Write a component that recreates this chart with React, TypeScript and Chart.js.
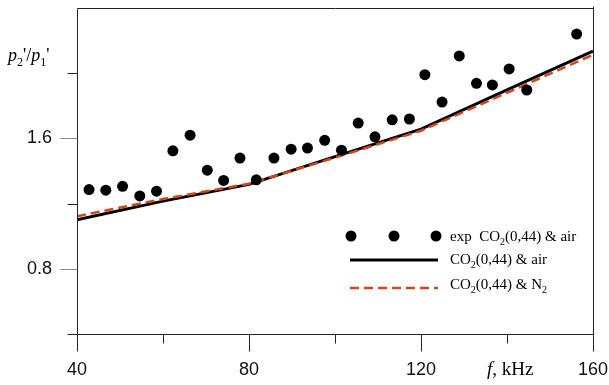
import React, { useEffect, useRef } from "react";
import { Chart, registerables } from "chart.js";

Chart.register(...registerables);

// Experimental points: exp CO2(0,44) & air
const fExp = [42.8, 46.7, 50.6, 54.6, 58.5, 62.3, 66.3, 70.3, 74.1, 77.9, 81.7, 85.8, 89.8, 93.6, 97.6, 101.5, 105.4, 109.3, 113.3, 117.3, 120.9, 124.9, 128.9, 132.9, 136.6, 140.5, 144.6, 156.2];
const pExp = [1.286, 1.282, 1.306, 1.247, 1.276, 1.524, 1.62, 1.405, 1.342, 1.479, 1.346, 1.479, 1.534, 1.541, 1.588, 1.528, 1.694, 1.61, 1.714, 1.719, 1.991, 1.823, 2.106, 1.938, 1.928, 2.026, 1.897, 2.24];

// Model curves
const fModel = [40, 60, 80, 100, 120, 140, 160];
const pAir = [1.1, 1.215, 1.318, 1.488, 1.657, 1.897, 2.135];
const pN2 = [1.122, 1.228, 1.322, 1.482, 1.647, 1.88, 2.113];

// Axis ticks
const xTicks = [40, 60, 80, 100, 120, 140, 160];
const xLabeled = [40, 80, 120, 160];
const yTicks = [0.4, 0.8, 1.2, 1.6, 2.0];
const yLabeled = [0.8, 1.6];

const RED = "#d4461a";
const SERIF = "'Liberation Serif', 'Times New Roman', serif";
const SANS = "'Liberation Sans', Arial, sans-serif";

type Part = { t: string; sub?: boolean; it?: boolean };

function drawRich(ctx: CanvasRenderingContext2D, x: number, y: number, parts: Part[], size: number) {
  let cx = x;
  for (const p of parts) {
    const fs = p.sub ? Math.round(size * 0.68) : size;
    ctx.font = `${p.it ? "italic " : ""}${fs}px ${SERIF}`;
    const dy = p.sub ? size * 0.28 : 0;
    ctx.fillText(p.t, cx, y + dy);
    cx += ctx.measureText(p.t).width;
  }
}

const decor = {
  id: "decor",
  afterDraw(chart: any) {
    const ctx: CanvasRenderingContext2D = chart.ctx;
    const { left, right, top, bottom } = chart.chartArea;
    const xs = chart.scales.x;
    const ys = chart.scales.y;
    const L = Math.round(left) + 0.5;
    const R = Math.round(right) + 0.5;
    const T = Math.round(top) + 0.5;
    const B = Math.round(bottom) + 0.5;
    ctx.save();
    ctx.lineWidth = 1;
    ctx.strokeStyle = "#222";
    // frame
    ctx.beginPath();
    ctx.moveTo(L, T);
    ctx.lineTo(R, T);
    ctx.moveTo(R, T - 2);
    ctx.lineTo(R, B);
    ctx.moveTo(L, T);
    ctx.lineTo(L, B);
    ctx.moveTo(L, B);
    ctx.lineTo(R, B);
    ctx.stroke();
    // x ticks
    for (const v of xTicks) {
      const px = Math.round(xs.getPixelForValue(v)) + 0.5;
      const len = xLabeled.includes(v) ? 17 : 9;
      ctx.beginPath();
      ctx.strokeStyle = "#222";
      ctx.moveTo(px, B);
      ctx.lineTo(px, B + len);
      ctx.stroke();
    }
    // y ticks
    for (const v of yTicks) {
      const py = Math.round(ys.getPixelForValue(v)) + 0.5;
      const major = yLabeled.some((l) => Math.abs(l - v) < 1e-6);
      ctx.beginPath();
      ctx.strokeStyle = major ? "#888" : "#222";
      ctx.moveTo(L, py);
      ctx.lineTo(L - (major ? 17 : 10), py);
      ctx.stroke();
    }
    // legend
    ctx.fillStyle = "#000";
    for (const dx of [351, 394, 436]) {
      ctx.beginPath();
      ctx.arc(dx, 236, 5.5, 0, Math.PI * 2);
      ctx.fill();
    }
    ctx.strokeStyle = "#000";
    ctx.lineWidth = 3;
    ctx.beginPath();
    ctx.moveTo(350, 260);
    ctx.lineTo(438, 260);
    ctx.stroke();
    ctx.strokeStyle = RED;
    ctx.lineWidth = 2.5;
    ctx.setLineDash([9, 5]);
    ctx.beginPath();
    ctx.moveTo(350, 288);
    ctx.lineTo(438, 288);
    ctx.stroke();
    ctx.setLineDash([]);
    ctx.fillStyle = "#000";
    ctx.textBaseline = "alphabetic";
    ctx.textAlign = "left";
    drawRich(ctx, 450, 241, [{ t: "exp  CO" }, { t: "2", sub: true }, { t: "(0,44) & air" }], 15);
    drawRich(ctx, 450, 264, [{ t: "CO" }, { t: "2", sub: true }, { t: "(0,44) & air" }], 15);
    drawRich(ctx, 450, 289, [{ t: "CO" }, { t: "2", sub: true }, { t: "(0,44) & N" }, { t: "2", sub: true }], 15);
    // y title
    drawRich(ctx, 8, 61, [
      { t: "p", it: true }, { t: "2", sub: true }, { t: "'" }, { t: "/" },
      { t: "p", it: true }, { t: "1", sub: true }, { t: "'" },
    ], 18);
    // x title
    drawRich(ctx, 487, 375, [{ t: "f", it: true }, { t: ", kHz" }], 19);
    ctx.restore();
  },
};

export default function App() {
  const ref = useRef<HTMLCanvasElement | null>(null);
  useEffect(() => {
    if (!ref.current) return;
    const chart = new Chart(ref.current, {
      type: "scatter",
      data: {
        datasets: [
          {
            label: "exp CO₂(0,44) & air",
            data: fExp.map((f, i) => ({ x: f, y: pExp[i] })),
            pointRadius: 5.5,
            pointBackgroundColor: "#000",
            pointBorderWidth: 0,
            showLine: false,
            order: 0,
          },
          {
            label: "CO₂(0,44) & N₂",
            data: fModel.map((f, i) => ({ x: f, y: pN2[i] })),
            showLine: true,
            borderColor: RED,
            borderWidth: 2.5,
            borderDash: [9, 5],
            pointRadius: 0,
            order: 1,
          },
          {
            label: "CO₂(0,44) & air",
            data: fModel.map((f, i) => ({ x: f, y: pAir[i] })),
            showLine: true,
            borderColor: "#000",
            borderWidth: 3,
            pointRadius: 0,
            order: 2,
          },
        ],
      },
      options: {
        responsive: false,
        animation: false,
        layout: { padding: { top: 8, right: 16, left: 0, bottom: 0 } },
        plugins: { legend: { display: false }, tooltip: { enabled: false } },
        scales: {
          x: {
            type: "linear",
            min: 40,
            max: 160,
            afterFit: (s: any) => { s.height = 51; s.paddingLeft = 0; s.paddingRight = 0; },
            ticks: {
              stepSize: 20,
              padding: 8,
              color: "#111",
              font: { family: SANS, size: 18 },
              maxRotation: 0,
              callback: (v: any) => (xLabeled.includes(Number(v)) ? String(v) : ""),
            },
            grid: { display: true, drawOnChartArea: false, drawTicks: true, tickLength: 17, color: "rgba(0,0,0,0)" },
            border: { display: false },
          },
          y: {
            type: "linear",
            min: 0.4,
            max: 2.4,
            afterFit: (s: any) => { s.width = 77; s.paddingTop = 0; s.paddingBottom = 0; },
            ticks: {
              stepSize: 0.4,
              padding: 8,
              color: "#111",
              font: { family: SANS, size: 18 },
              callback: (v: any) => {
                const n = Number(v);
                return yLabeled.some((l) => Math.abs(l - n) < 1e-6) ? n.toFixed(1) : "";
              },
            },
            grid: { display: true, drawOnChartArea: false, drawTicks: true, tickLength: 17, color: "rgba(0,0,0,0)" },
            border: { display: false },
          },
        },
      },
      plugins: [decor],
    });
    return () => chart.destroy();
  }, []);
  return (
    <div style={{ position: "fixed", left: 0, top: 0, width: 609, height: 385, background: "#fff" }}>
      <canvas ref={ref} width={609} height={385} />
    </div>
  );
}
